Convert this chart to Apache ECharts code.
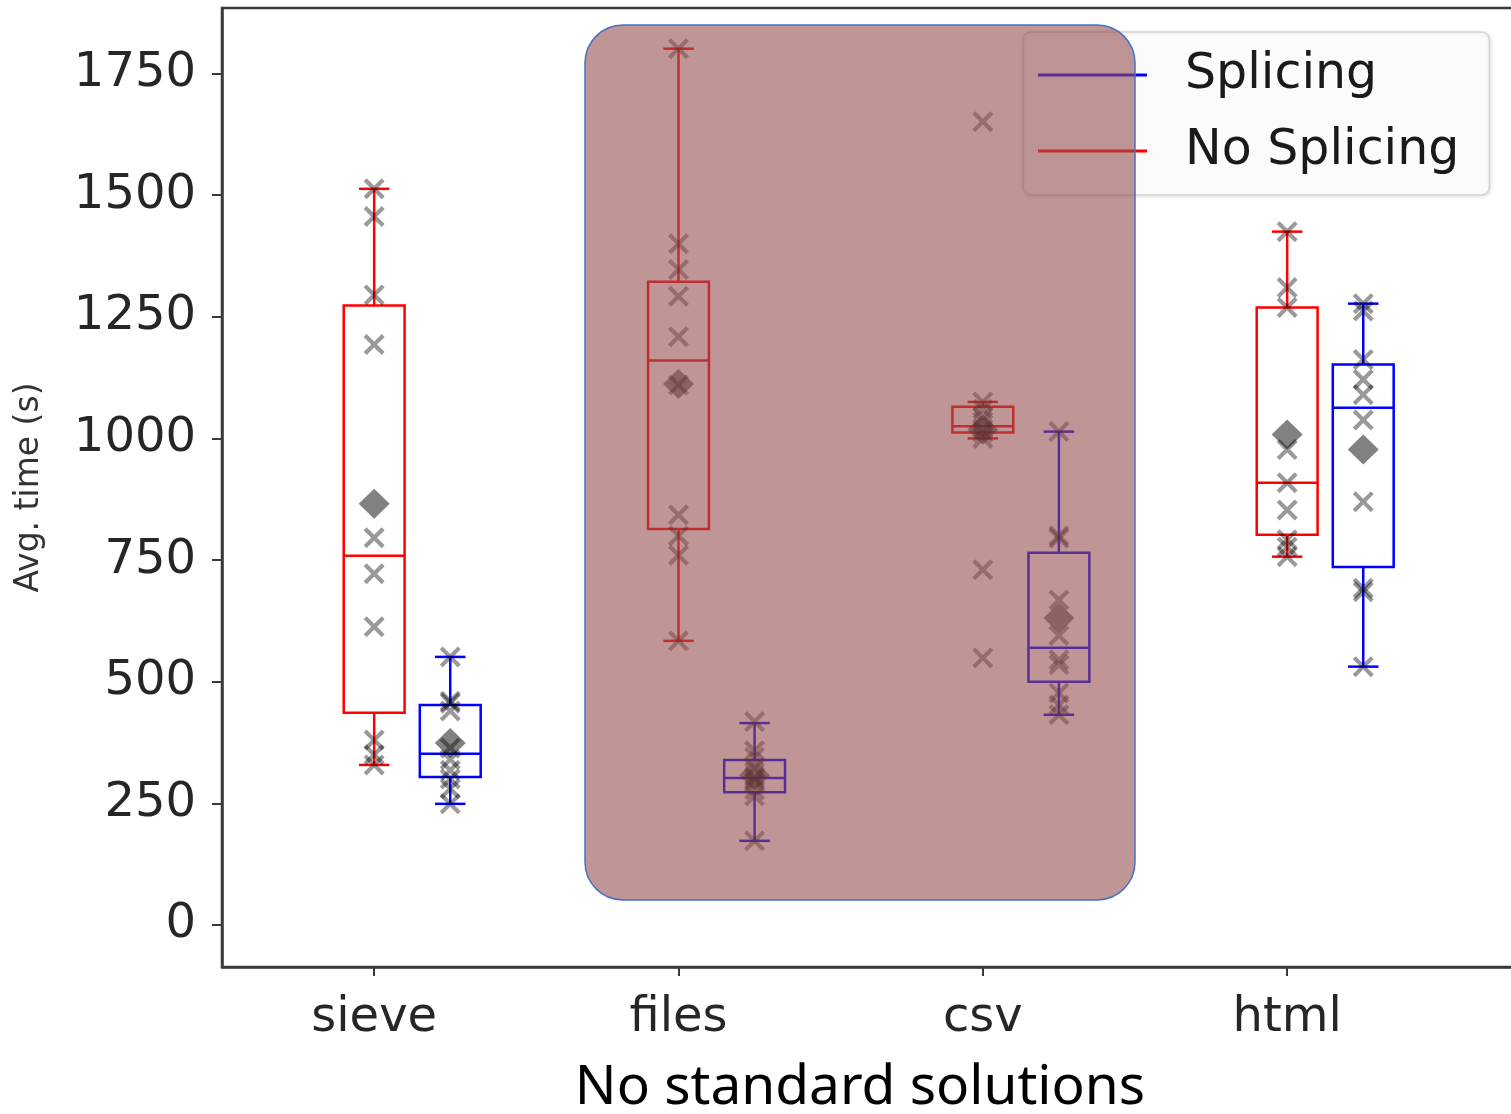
<!DOCTYPE html>
<html><head><meta charset="utf-8">
<script src="https://cdn.jsdelivr.net/npm/echarts@6/dist/echarts.min.js"></script>
<style>html,body{margin:0;padding:0;background:#fff}#c{width:1511px;height:1114px}</style>
</head><body><div id="c"></div>
<script>
const categories = ['sieve', 'files', 'csv', 'html'];
const yTicks = [0, 250, 500, 750, 1000, 1250, 1500, 1750];
// [low whisker, Q1, median, Q3, high whisker]
const noSplicingBox = [[329, 436, 759, 1273, 1513], [584, 814, 1160, 1322, 1801], [1000, 1012, 1025, 1065, 1075], [757, 802, 909, 1269, 1425]];
const splicingBox = [[249, 304, 352, 452, 551], [173, 273, 302, 339, 415], [432, 500, 570, 765, 1014], [531, 736, 1063, 1152, 1277]];
const noSplicingMean = [866, 1112, 1018, 1008];
const splicingMean = [374, 308, 631, 977];
const noSplicingRuns = [
  [329, 350, 380, 613, 722, 796, 1193, 1295, 1456, 1513],
  [584, 760, 800, 843, 1110, 1209, 1292, 1347, 1400, 1801],
  [549, 730, 1000, 1012, 1020, 1035, 1045, 1060, 1075, 1651],
  [757, 777, 792, 853, 909, 977, 1269, 1310, 1425]
];
const splicingRuns = [
  [249, 280, 300, 318, 340, 364, 440, 456, 460, 551],
  [173, 265, 278, 292, 300, 305, 322, 345, 358, 418],
  [432, 452, 477, 535, 545, 595, 668, 795, 800, 1014],
  [531, 685, 692, 870, 1038, 1090, 1121, 1162, 1262, 1277]
];
const RED = '#ff0000', BLUE = '#0000ff';
const splicingOffset = 0.25;

function boxRender(color) {
  return function (params, api) {
    const x = api.value(0);
    const low = api.value(1), q1 = api.value(2), med = api.value(3), q3 = api.value(4), high = api.value(5);
    const half = 0.1, capHalf = 0.05;
    const p = (xx, yy) => api.coord([xx, yy]);
    const st = () => ({ stroke: color, lineWidth: 2.5, fill: 'none' });
    const line = (a, b) => ({ type: 'line', shape: { x1: a[0], y1: a[1], x2: b[0], y2: b[1] }, style: st() });
    const lt = p(x - half, q3), rb = p(x + half, q1);
    return {
      type: 'group', children: [
        line(p(x, q3), p(x, high)), line(p(x, q1), p(x, low)),
        line(p(x - capHalf, high), p(x + capHalf, high)), line(p(x - capHalf, low), p(x + capHalf, low)),
        { type: 'rect', shape: { x: lt[0], y: lt[1], width: rb[0] - lt[0], height: rb[1] - lt[1] }, style: st() },
        line(p(x - half, med), p(x + half, med))
      ]
    };
  };
}

const xPath = 'path://M0,1.4L1.4,0L5,3.6L8.6,0L10,1.4L6.4,5L10,8.6L8.6,10L5,6.4L1.4,10L0,8.6L3.6,5Z';
const points = [];
noSplicingRuns.forEach((arr, i) => arr.forEach(v => points.push([i + 1, v])));
splicingRuns.forEach((arr, i) => arr.forEach(v => points.push([i + 1 + splicingOffset, v])));
const means = noSplicingMean.map((v, i) => [i + 1, v]).concat(splicingMean.map((v, i) => [i + 1 + splicingOffset, v]));

const chart = echarts.init(document.getElementById('c'));
chart.setOption({
  animation: false,
  backgroundColor: '#fff',
  grid: { left: 222, top: 8, width: 1299, bottom: 147, containLabel: false, outerBoundsMode: 'none',
    show: true, borderColor: '#3a3a3a', borderWidth: 2.5, backgroundColor: 'transparent' },
  xAxis: {
    type: 'value', min: 0.5, max: 0.5 + 1299 / 304.33,
    axisLine: { show: true, onZero: false, lineStyle: { color: '#3a3a3a', width: 2.5 } },
    axisTick: { show: true, length: 9, customValues: [1, 2, 3, 4], lineStyle: { color: '#3a3a3a', width: 2 } },
    axisLabel: {
      customValues: [1, 2, 3, 4], formatter: v => categories[Math.round(v) - 1] || '',
      fontFamily: 'DejaVu Sans', fontSize: 48, lineHeight: 48, color: '#262626', margin: 28
    },
    splitLine: { show: false }
  },
  yAxis: {
    type: 'value', min: -86.3, max: 1884.6,
    name: 'Avg. time (s)', nameLocation: 'middle', nameGap: 176,
    nameTextStyle: { fontFamily: 'DejaVu Sans', fontSize: 33, color: '#333' },
    axisLine: { show: true, onZero: false, lineStyle: { color: '#3a3a3a', width: 2.5 } },
    axisTick: { show: true, length: 10, customValues: yTicks, lineStyle: { color: '#3a3a3a', width: 2 } },
    axisLabel: { customValues: yTicks, formatter: v => String(v), fontFamily: 'DejaVu Sans', fontSize: 48, color: '#262626', margin: 26 },
    splitLine: { show: false }
  },
  legend: {
    orient: 'vertical', left: 1023, top: 32, selectedMode: false,
    itemWidth: 109, itemHeight: 3, itemGap: 20, padding: [15, 30, 16, 15],
    backgroundColor: 'rgba(255,255,255,0.85)', borderColor: '#d4d4d4', borderWidth: 1.5, borderRadius: 8,
    shadowBlur: 4, shadowColor: 'rgba(0,0,0,0.12)', shadowOffsetX: 1, shadowOffsetY: 1,
    textStyle: { fontFamily: 'DejaVu Sans', fontSize: 49, lineHeight: 56, color: '#1a1a1a', padding: [0, 0, 0, 33] },
    data: [
      { name: 'Splicing', icon: 'rect', itemStyle: { color: BLUE } },
      { name: 'No Splicing', icon: 'rect', itemStyle: { color: RED } }
    ]
  },
  series: [
    { name: 'No Splicing', type: 'custom', renderItem: boxRender(RED), itemStyle: { color: RED }, z: 2,
      encode: { x: 0, y: [1, 2, 3, 4, 5] }, data: noSplicingBox.map((b, i) => [i + 1].concat(b)) },
    { name: 'Splicing', type: 'custom', renderItem: boxRender(BLUE), itemStyle: { color: BLUE }, z: 2,
      encode: { x: 0, y: [1, 2, 3, 4, 5] }, data: splicingBox.map((b, i) => [i + 1 + splicingOffset].concat(b)) },
    { name: 'mean', type: 'scatter', symbol: 'diamond', symbolSize: [31, 30], z: 3,
      itemStyle: { color: 'rgba(0,0,0,0.62)' }, data: means },
    { name: 'runs', type: 'scatter', symbol: xPath, symbolSize: 21, z: 4,
      itemStyle: { color: 'rgba(0,0,0,0.5)' }, data: points }
  ],
  graphic: [
    { type: 'rect', z: 100, silent: true, shape: { x: 585, y: 25, width: 550, height: 875, r: 38 },
      style: { fill: 'rgba(150,78,78,0.6)', stroke: '#4472c4', lineWidth: 1.5 } },
    { type: 'text', z: 100, x: 860, y: 1088,
      style: { text: 'No standard solutions', fontFamily: 'Noto Sans', fontSize: 55, fill: '#000', align: 'center', verticalAlign: 'middle' } }
  ]
});
</script>
</body></html>
